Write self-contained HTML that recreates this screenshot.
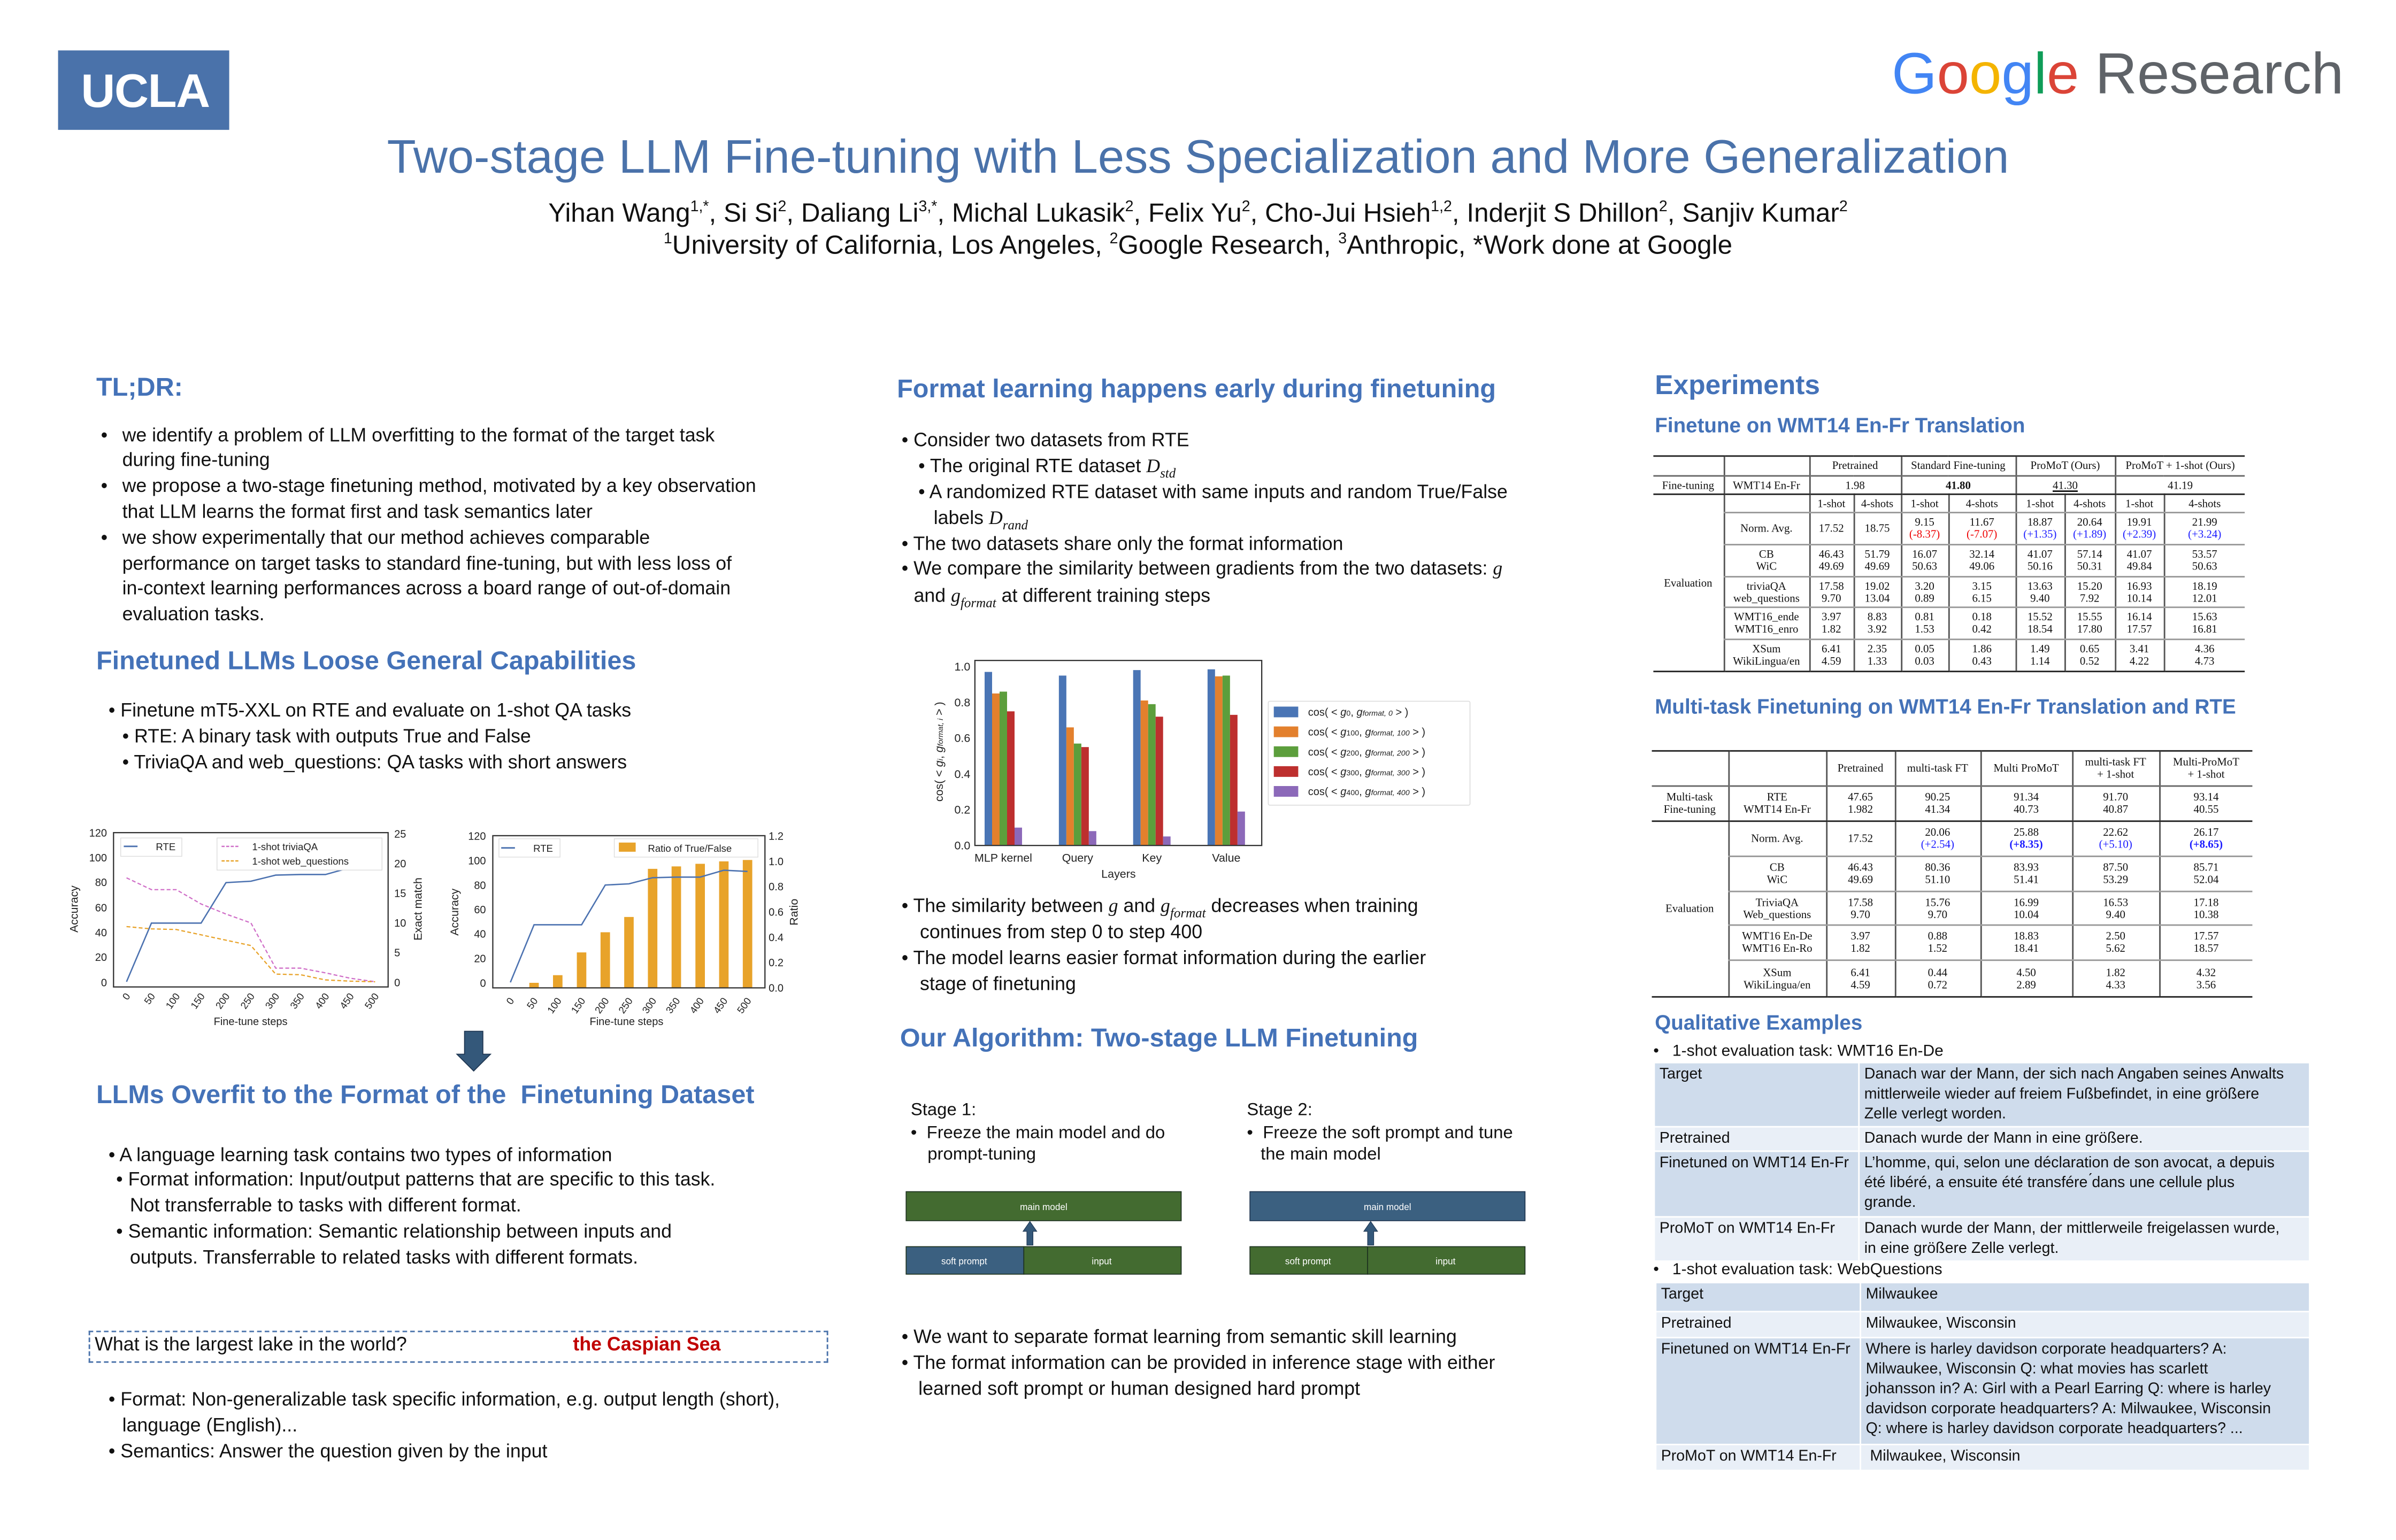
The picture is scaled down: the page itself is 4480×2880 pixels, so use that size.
<!DOCTYPE html>
<html><head><meta charset="utf-8">
<style>
html,body{margin:0;padding:0;background:#fff;}
body{width:4480px;height:2880px;overflow:hidden;position:relative;}
#p{position:absolute;left:0;top:0;width:1568px;height:1008px;transform:scale(2.857143);transform-origin:0 0;font-family:"Liberation Sans",Arial,sans-serif;color:#111;}
.x{position:absolute;white-space:nowrap;line-height:1;font-size:12.5px;}
.h{position:absolute;white-space:nowrap;line-height:1;font-size:17px;font-weight:bold;color:#4472b8;}
.s{position:absolute;white-space:nowrap;line-height:1;font-size:13.5px;font-weight:bold;color:#4472b8;}
.m{font-family:"Liberation Serif",serif;font-style:italic;}
sub.f{font-size:0.7em;font-family:"Liberation Serif",serif;font-style:italic;}
table.tb{position:absolute;border-collapse:collapse;table-layout:fixed;font-family:"Liberation Serif",serif;font-size:7.3px;line-height:8px;text-align:center;}
table.tb td{padding:0;border-left:0.6px solid #555;vertical-align:middle;overflow:hidden;white-space:nowrap;}
table.tb td.n{border-left:none;}
table.tb tr.top td{border-top:1.5px solid #222;}
table.tb tr.b1 td{border-bottom:1px solid #666;}
table.tb tr.b2 td{border-bottom:1.5px solid #222;}
table.tb tr.g td.c{border-bottom:1px solid #999;}
.r{color:#e00;} .bl{color:#1a1aff;}
table.q{position:absolute;border-collapse:collapse;table-layout:fixed;font-size:10px;line-height:13px;}
table.q td{padding:1px 3px;vertical-align:top;border:1px solid #fff;white-space:nowrap;}
tr.d td{background:#cfdcec;} tr.l td{background:#e9eff7;}
</style></head><body>
<div id="p">
<!-- header -->
<div style="position:absolute;left:38px;top:33px;width:112px;height:52px;background:#4a72aa;"></div>
<div class="x" style="left:53px;top:44px;font-size:31px;font-weight:bold;color:#fff;letter-spacing:-0.5px;">UCLA</div>
<div class="x" style="left:1238px;top:30px;font-size:38px;"><span style="color:#4285f4">G</span><span style="color:#db4437">o</span><span style="color:#f4b400">o</span><span style="color:#4285f4">g</span><span style="color:#0f9d58">l</span><span style="color:#db4437">e</span> <span style="color:#5f6368">Research</span></div>
<div class="x" style="left:0;width:1568px;text-align:center;top:87px;font-size:31px;color:#4a72aa;">Two-stage LLM Fine-tuning with Less Specialization and More Generalization</div>
<div class="x" style="left:0;width:1568px;text-align:center;top:131px;font-size:17.3px;">Yihan Wang<sup style="font-size:10px">1,*</sup>, Si Si<sup style="font-size:10px">2</sup>, Daliang Li<sup style="font-size:10px">3,*</sup>, Michal Lukasik<sup style="font-size:10px">2</sup>, Felix Yu<sup style="font-size:10px">2</sup>, Cho-Jui Hsieh<sup style="font-size:10px">1,2</sup>, Inderjit S Dhillon<sup style="font-size:10px">2</sup>, Sanjiv Kumar<sup style="font-size:10px">2</sup></div>
<div class="x" style="left:0;width:1568px;text-align:center;top:152px;font-size:17.3px;"><sup style="font-size:10px">1</sup>University of California, Los Angeles, <sup style="font-size:10px">2</sup>Google Research, <sup style="font-size:10px">3</sup>Anthropic, *Work done at Google</div>

<!-- left column -->
<div class="h" style="left:63px;top:245px;">TL;DR:</div>
<div class="x" style="left:66px;top:279px;">•</div><div class="x" style="left:80px;top:279px;">we identify a problem of LLM overfitting to the format of the target task</div>
<div class="x" style="left:80px;top:295px;">during fine-tuning</div>
<div class="x" style="left:66px;top:312px;">•</div><div class="x" style="left:80px;top:312px;">we propose a two-stage finetuning method, motivated by a key observation</div>
<div class="x" style="left:80px;top:329px;">that LLM learns the format first and task semantics later</div>
<div class="x" style="left:66px;top:346px;">•</div><div class="x" style="left:80px;top:346px;">we show experimentally that our method achieves comparable</div>
<div class="x" style="left:80px;top:363px;">performance on target tasks to standard fine-tuning, but with less loss of</div>
<div class="x" style="left:80px;top:379px;">in-context learning performances across a board range of out-of-domain</div>
<div class="x" style="left:80px;top:396px;">evaluation tasks.</div>

<div class="h" style="left:63px;top:424px;">Finetuned LLMs Loose General Capabilities</div>
<div class="x" style="left:71px;top:459px;">• Finetune mT5-XXL on RTE and evaluate on 1-shot QA tasks</div>
<div class="x" style="left:80px;top:476px;">• RTE: A binary task with outputs True and False</div>
<div class="x" style="left:80px;top:493px;">• TriviaQA and web_questions: QA tasks with short answers</div>

<div class="h" style="left:63px;top:708px;">LLMs Overfit to the Format of the &nbsp;Finetuning Dataset</div>
<div class="x" style="left:71px;top:750px;">• A language learning task contains two types of information</div>
<div class="x" style="left:76px;top:766px;">• Format information: Input/output patterns that are specific to this task.</div>
<div class="x" style="left:85px;top:783px;">Not transferrable to tasks with different format.</div>
<div class="x" style="left:76px;top:800px;">• Semantic information: Semantic relationship between inputs and</div>
<div class="x" style="left:85px;top:817px;">outputs. Transferrable to related tasks with different formats.</div>
<div style="position:absolute;left:58px;top:871px;width:482px;height:19px;border:1px dashed #4a72aa;"></div>
<div class="x" style="left:62px;top:874px;">What is the largest lake in the world?</div>
<div class="x" style="left:375px;top:874px;color:#c00000;font-weight:bold;">the Caspian Sea</div>
<div class="x" style="left:71px;top:910px;">• Format: Non-generalizable task specific information, e.g. output length (short),</div>
<div class="x" style="left:80px;top:927px;">language (English)...</div>
<div class="x" style="left:71px;top:944px;">• Semantics: Answer the question given by the input</div>

<!-- middle column -->
<div class="h" style="left:587px;top:246px;">Format learning happens early during finetuning</div>
<div class="x" style="left:590px;top:282px;">• Consider two datasets from RTE</div>
<div class="x" style="left:601px;top:299px;">• The original RTE dataset <span class="m">D<sub class="f">std</sub></span></div>
<div class="x" style="left:601px;top:316px;">• A randomized RTE dataset with same inputs and random True/False</div>
<div class="x" style="left:611px;top:333px;">labels <span class="m">D<sub class="f">rand</sub></span></div>
<div class="x" style="left:590px;top:350px;">• The two datasets share only the format information</div>
<div class="x" style="left:590px;top:366px;">• We compare the similarity between gradients from the two datasets: <span class="m">g</span></div>
<div class="x" style="left:598px;top:384px;">and <span class="m">g<sub class="f">format</sub></span> at different training steps</div>

<div class="x" style="left:590px;top:587px;">• The similarity between <span class="m">g</span> and <span class="m">g<sub class="f">format</sub></span> decreases when training</div>
<div class="x" style="left:602px;top:604px;">continues from step 0 to step 400</div>
<div class="x" style="left:590px;top:621px;">• The model learns easier format information during the earlier</div>
<div class="x" style="left:602px;top:638px;">stage of finetuning</div>

<div class="h" style="left:589px;top:671px;">Our Algorithm: Two-stage LLM Finetuning</div>
<div class="x" style="left:596px;top:722px;font-size:11.5px;">Stage 1:</div>
<div class="x" style="left:596px;top:737px;font-size:11.5px;">•&nbsp; Freeze the main model and do</div>
<div class="x" style="left:607px;top:751px;font-size:11.5px;">prompt-tuning</div>
<div class="x" style="left:816px;top:722px;font-size:11.5px;">Stage 2:</div>
<div class="x" style="left:816px;top:737px;font-size:11.5px;">•&nbsp; Freeze the soft prompt and tune</div>
<div class="x" style="left:825px;top:751px;font-size:11.5px;">the main model</div>

<div class="x" style="left:590px;top:869px;">• We want to separate format learning from semantic skill learning</div>
<div class="x" style="left:590px;top:886px;">• The format information can be provided in inference stage with either</div>
<div class="x" style="left:601px;top:903px;">learned soft prompt or human designed hard prompt</div>

<!-- right column -->
<div class="h" style="left:1083px;top:243px;font-size:18px;">Experiments</div>
<div class="s" style="left:1083px;top:272px;">Finetune on WMT14 En-Fr Translation</div>

<table class="tb" style="left:1082px;top:298px;width:387px;">
<colgroup><col style="width:46px"><col style="width:56px"><col style="width:29px"><col style="width:31px"><col style="width:31px"><col style="width:44px"><col style="width:32px"><col style="width:33px"><col style="width:32px"><col style="width:53px"></colgroup>
<tr class="top b1" style="height:13px"><td class="n"></td><td></td><td colspan="2">Pretrained</td><td colspan="2">Standard Fine-tuning</td><td colspan="2">ProMoT (Ours)</td><td colspan="2">ProMoT + 1-shot (Ours)</td></tr>
<tr class="b2" style="height:12px"><td class="n">Fine-tuning</td><td>WMT14 En-Fr</td><td colspan="2">1.98</td><td colspan="2"><b>41.80</b></td><td colspan="2"><u>41.30</u></td><td colspan="2">41.19</td></tr>
<tr class="g" style="height:12px"><td class="n" rowspan="6" style="border-bottom:1.5px solid #222;">Evaluation</td><td class="c"></td><td class="c">1-shot</td><td class="c">4-shots</td><td class="c">1-shot</td><td class="c">4-shots</td><td class="c">1-shot</td><td class="c">4-shots</td><td class="c">1-shot</td><td class="c">4-shots</td></tr>
<tr class="g" style="height:21px"><td class="c">Norm. Avg.</td><td class="c">17.52</td><td class="c">18.75</td><td class="c">9.15<br><span class="r">(-8.37)</span></td><td class="c">11.67<br><span class="r">(-7.07)</span></td><td class="c">18.87<br><span class="bl">(+1.35)</span></td><td class="c">20.64<br><span class="bl">(+1.89)</span></td><td class="c">19.91<br><span class="bl">(+2.39)</span></td><td class="c">21.99<br><span class="bl">(+3.24)</span></td></tr>
<tr class="g" style="height:21px"><td class="c">CB<br>WiC</td><td class="c">46.43<br>49.69</td><td class="c">51.79<br>49.69</td><td class="c">16.07<br>50.63</td><td class="c">32.14<br>49.06</td><td class="c">41.07<br>50.16</td><td class="c">57.14<br>50.31</td><td class="c">41.07<br>49.84</td><td class="c">53.57<br>50.63</td></tr>
<tr class="g" style="height:20px"><td class="c">triviaQA<br>web_questions</td><td class="c">17.58<br>9.70</td><td class="c">19.02<br>13.04</td><td class="c">3.20<br>0.89</td><td class="c">3.15<br>6.15</td><td class="c">13.63<br>9.40</td><td class="c">15.20<br>7.92</td><td class="c">16.93<br>10.14</td><td class="c">18.19<br>12.01</td></tr>
<tr class="g" style="height:21px"><td class="c">WMT16_ende<br>WMT16_enro</td><td class="c">3.97<br>1.82</td><td class="c">8.83<br>3.92</td><td class="c">0.81<br>1.53</td><td class="c">0.18<br>0.42</td><td class="c">15.52<br>18.54</td><td class="c">15.55<br>17.80</td><td class="c">16.14<br>17.57</td><td class="c">15.63<br>16.81</td></tr>
<tr class="b2" style="height:21px"><td>XSum<br>WikiLingua/en</td><td>6.41<br>4.59</td><td>2.35<br>1.33</td><td>0.05<br>0.03</td><td>1.86<br>0.43</td><td>1.49<br>1.14</td><td>0.65<br>0.52</td><td>3.41<br>4.22</td><td>4.36<br>4.73</td></tr>
</table>

<div class="s" style="left:1083px;top:456px;">Multi-task Finetuning on WMT14 En-Fr Translation and RTE</div>

<table class="tb" style="left:1081px;top:491px;width:393px;">
<colgroup><col style="width:50px"><col style="width:64px"><col style="width:45px"><col style="width:56px"><col style="width:60px"><col style="width:57px"><col style="width:61px"></colgroup>
<tr class="top b1" style="height:23px"><td class="n"></td><td></td><td>Pretrained</td><td>multi-task FT</td><td>Multi ProMoT</td><td>multi-task FT<br>+ 1-shot</td><td>Multi-ProMoT<br>+ 1-shot</td></tr>
<tr class="b2" style="height:23px"><td class="n">Multi-task<br>Fine-tuning</td><td>RTE<br>WMT14 En-Fr</td><td>47.65<br>1.982</td><td>90.25<br>41.34</td><td>91.34<br>40.73</td><td>91.70<br>40.87</td><td>93.14<br>40.55</td></tr>
<tr class="g" style="height:23px"><td class="n" rowspan="5" style="border-bottom:1.5px solid #222;">Evaluation</td><td class="c">Norm. Avg.</td><td class="c">17.52</td><td class="c">20.06<br><span class="bl">(+2.54)</span></td><td class="c">25.88<br><b class="bl">(+8.35)</b></td><td class="c">22.62<br><span class="bl">(+5.10)</span></td><td class="c">26.17<br><b class="bl">(+8.65)</b></td></tr>
<tr class="g" style="height:23px"><td class="c">CB<br>WiC</td><td class="c">46.43<br>49.69</td><td class="c">80.36<br>51.10</td><td class="c">83.93<br>51.41</td><td class="c">87.50<br>53.29</td><td class="c">85.71<br>52.04</td></tr>
<tr class="g" style="height:22px"><td class="c">TriviaQA<br>Web_questions</td><td class="c">17.58<br>9.70</td><td class="c">15.76<br>9.70</td><td class="c">16.99<br>10.04</td><td class="c">16.53<br>9.40</td><td class="c">17.18<br>10.38</td></tr>
<tr class="g" style="height:23px"><td class="c">WMT16 En-De<br>WMT16 En-Ro</td><td class="c">3.97<br>1.82</td><td class="c">0.88<br>1.52</td><td class="c">18.83<br>18.41</td><td class="c">2.50<br>5.62</td><td class="c">17.57<br>18.57</td></tr>
<tr class="b2" style="height:24px"><td>XSum<br>WikiLingua/en</td><td>6.41<br>4.59</td><td>0.44<br>0.72</td><td>4.50<br>2.89</td><td>1.82<br>4.33</td><td>4.32<br>3.56</td></tr>
</table>

<div class="s" style="left:1083px;top:663px;">Qualitative Examples</div>
<div class="x" style="left:1082px;top:683px;font-size:10.5px;">•&nbsp;&nbsp; 1-shot evaluation task: WMT16 En-De</div>
<table class="q" style="left:1082px;top:695px;width:429px;">
<colgroup><col style="width:134px"><col style="width:295px"></colgroup>
<tr class="d" style="height:42px"><td>Target</td><td>Danach war der Mann, der sich nach Angaben seines Anwalts<br>mittlerweile wieder auf freiem Fußbefindet, in eine größere<br>Zelle verlegt worden.</td></tr>
<tr class="l" style="height:15px"><td>Pretrained</td><td>Danach wurde der Mann in eine größere.</td></tr>
<tr class="d" style="height:43px"><td>Finetuned on WMT14 En-Fr</td><td>L’homme, qui, selon une déclaration de son avocat, a depuis<br>été libéré, a ensuite été transfére ́dans une cellule plus<br>grande.</td></tr>
<tr class="l" style="height:27px"><td>ProMoT on WMT14 En-Fr</td><td>Danach wurde der Mann, der mittlerweile freigelassen wurde,<br>in eine größere Zelle verlegt.</td></tr>
</table>
<div class="x" style="left:1082px;top:826px;font-size:10.5px;">•&nbsp;&nbsp; 1-shot evaluation task: WebQuestions</div>
<table class="q" style="left:1083px;top:839px;width:428px;">
<colgroup><col style="width:134px"><col style="width:294px"></colgroup>
<tr class="d" style="height:19px"><td>Target</td><td>Milwaukee</td></tr>
<tr class="l" style="height:17px"><td>Pretrained</td><td>Milwaukee, Wisconsin</td></tr>
<tr class="d" style="height:70px"><td>Finetuned on WMT14 En-Fr</td><td>Where is harley davidson corporate headquarters? A:<br>Milwaukee, Wisconsin Q: what movies has scarlett<br>johansson in? A: Girl with a Pearl Earring Q: where is harley<br>davidson corporate headquarters? A: Milwaukee, Wisconsin<br>Q: where is harley davidson corporate headquarters? ...</td></tr>
<tr class="l" style="height:17px"><td>ProMoT on WMT14 En-Fr</td><td>&nbsp;Milwaukee, Wisconsin</td></tr>
</table>

<!-- charts / diagrams -->
<svg style="position:absolute;left:0;top:0" width="1568" height="1008" viewBox="0 0 1568 1008" font-family="Liberation Sans, Arial, sans-serif">
<!-- left line chart -->
<g font-size="7" fill="#222">
<rect x="74.3" y="545" width="179.7" height="101" fill="none" stroke="#333" stroke-width="0.8"/>
<g text-anchor="end">
<text x="70" y="645.5">0</text><text x="70" y="629">20</text><text x="70" y="612.8">40</text><text x="70" y="596.5">60</text><text x="70" y="580">80</text><text x="70" y="563.8">100</text><text x="70" y="547.5">120</text>
</g>
<text x="258" y="645.5">0</text><text x="258" y="626">5</text><text x="258" y="606.6">10</text><text x="258" y="587.2">15</text><text x="258" y="567.7">20</text><text x="258" y="548.3">25</text>
<text transform="translate(51,595) rotate(-90)" text-anchor="middle" font-size="7.5">Accuracy</text>
<text transform="translate(276,595) rotate(-90)" text-anchor="middle" font-size="7.5">Exact match</text>
<g font-size="6.5" text-anchor="end">
<text transform="translate(85.5,652) rotate(-55)">0</text><text transform="translate(101.8,652) rotate(-55)">50</text><text transform="translate(118,652) rotate(-55)">100</text><text transform="translate(134.3,652) rotate(-55)">150</text><text transform="translate(150.6,652) rotate(-55)">200</text><text transform="translate(166.9,652) rotate(-55)">250</text><text transform="translate(183.1,652) rotate(-55)">300</text><text transform="translate(199.4,652) rotate(-55)">350</text><text transform="translate(215.7,652) rotate(-55)">400</text><text transform="translate(231.9,652) rotate(-55)">450</text><text transform="translate(248.2,652) rotate(-55)">500</text>
</g>
<text x="164" y="671" text-anchor="middle" font-size="7">Fine-tune steps</text>
<polyline fill="none" stroke="#4c72b0" stroke-width="0.9" points="82.8,642.6 99.1,604.2 115.3,604.2 131.6,604.2 147.9,577.7 164.2,576.8 180.4,572.8 196.7,572.4 213,572.4 229.2,567.9 245.5,568.7"/>
<polyline fill="none" stroke="#d070c8" stroke-width="0.8" stroke-dasharray="2.5,1.5" points="82.8,574.6 99.1,582.3 115.3,582.3 131.6,591.7 147.9,598.3 164.2,604.1 180.4,633.7 196.7,633.7 213,636.8 229.2,640.3 245.5,642.6"/>
<polyline fill="none" stroke="#e8a32a" stroke-width="0.8" stroke-dasharray="2.5,1.5" points="82.8,606.5 99.1,608 115.3,608.4 131.6,611.9 147.9,615.4 164.2,618.9 180.4,637.6 196.7,638 213,641.4 229.2,642.2 245.5,642.6"/>
<rect x="79" y="548.5" width="40" height="12" fill="#fff" stroke="#ddd" stroke-width="0.5"/>
<line x1="81" y1="554" x2="90" y2="554" stroke="#4c72b0" stroke-width="1"/><text x="102" y="556.5" font-size="6.5">RTE</text>
<rect x="142" y="548.5" width="108" height="21" fill="#fff" stroke="#ddd" stroke-width="0.5"/>
<line x1="145" y1="554" x2="157" y2="554" stroke="#d070c8" stroke-width="0.9" stroke-dasharray="2,1"/><text x="165" y="556.5" font-size="6.5">1-shot triviaQA</text>
<line x1="145" y1="563.5" x2="157" y2="563.5" stroke="#e8a32a" stroke-width="0.9" stroke-dasharray="2,1"/><text x="165" y="566" font-size="6.5">1-shot web_questions</text>
</g>
<!-- right chart -->
<g font-size="7" fill="#222">
<g fill="#e8a32a">
<rect x="346.4" y="643.3" width="6.2" height="3.3"/><rect x="361.9" y="638.3" width="6.2" height="8.3"/><rect x="377.5" y="623.4" width="6.2" height="23.2"/><rect x="393" y="610.2" width="6.2" height="36.4"/><rect x="408.5" y="600.2" width="6.2" height="46.4"/><rect x="424" y="568.7" width="6.2" height="77.9"/><rect x="439.5" y="567.1" width="6.2" height="79.5"/><rect x="455.1" y="565.4" width="6.2" height="81.2"/><rect x="470.6" y="563.8" width="6.2" height="82.8"/><rect x="486.1" y="562.9" width="6.2" height="83.7"/>
</g>
<rect x="322.5" y="547" width="178.1" height="99.6" fill="none" stroke="#333" stroke-width="0.8"/>
<polyline fill="none" stroke="#4c72b0" stroke-width="0.9" points="334,643 349.5,605.3 365,605.3 380.6,605.3 396.1,579.3 411.6,578.5 427.1,574.5 442.6,574.1 458.2,574.1 473.7,569.6 489.2,570.4"/>
<g text-anchor="end">
<text x="318" y="646">0</text><text x="318" y="629.9">20</text><text x="318" y="613.8">40</text><text x="318" y="597.8">60</text><text x="318" y="581.8">80</text><text x="318" y="565.7">100</text><text x="318" y="549.7">120</text>
</g>
<text x="503" y="649">0.0</text><text x="503" y="632.5">0.2</text><text x="503" y="616">0.4</text><text x="503" y="599.4">0.6</text><text x="503" y="582.8">0.8</text><text x="503" y="566.3">1.0</text><text x="503" y="549.7">1.2</text>
<text transform="translate(300,597) rotate(-90)" text-anchor="middle" font-size="7.5">Accuracy</text>
<text transform="translate(522,597) rotate(-90)" text-anchor="middle" font-size="7.5">Ratio</text>
<g font-size="6.5" text-anchor="end">
<text transform="translate(336.7,655) rotate(-55)">0</text><text transform="translate(352.2,655) rotate(-55)">50</text><text transform="translate(367.7,655) rotate(-55)">100</text><text transform="translate(383.3,655) rotate(-55)">150</text><text transform="translate(398.8,655) rotate(-55)">200</text><text transform="translate(414.3,655) rotate(-55)">250</text><text transform="translate(429.8,655) rotate(-55)">300</text><text transform="translate(445.3,655) rotate(-55)">350</text><text transform="translate(460.9,655) rotate(-55)">400</text><text transform="translate(476.4,655) rotate(-55)">450</text><text transform="translate(491.9,655) rotate(-55)">500</text>
</g>
<text x="410" y="671" text-anchor="middle" font-size="7">Fine-tune steps</text>
<rect x="326.5" y="549" width="40" height="12" fill="#fff" stroke="#ddd" stroke-width="0.5"/>
<line x1="328" y1="555" x2="337" y2="555" stroke="#4c72b0" stroke-width="1"/><text x="349" y="557.5" font-size="6.5">RTE</text>
<rect x="402" y="549" width="94" height="12" fill="#fff" stroke="#ddd" stroke-width="0.5"/>
<rect x="405" y="551.5" width="11" height="6" fill="#e8a32a"/><text x="424" y="557.5" font-size="6.5">Ratio of True/False</text>
</g>
<!-- down arrow -->
<polygon points="304,675 316,675 316,690 321,690 310,701 299,690 304,690" fill="#34587a" stroke="#1e3550" stroke-width="0.6"/>

<!-- bar chart -->
<g font-size="7.5" fill="#222">
<g fill="#4a75b5">
<rect x="644.35" y="439.8" width="4.9" height="113.6"/><rect x="692.95" y="442.2" width="4.9" height="111.2"/><rect x="741.55" y="438.6" width="4.9" height="114.8"/><rect x="790.25" y="438.1" width="4.9" height="115.3"/>
</g>
<g fill="#e3802d">
<rect x="649.25" y="453.9" width="4.9" height="99.5"/><rect x="697.85" y="476.1" width="4.9" height="77.3"/><rect x="746.45" y="458.5" width="4.9" height="94.9"/><rect x="795.15" y="442.7" width="4.9" height="110.7"/>
</g>
<g fill="#5c9e3c">
<rect x="654.15" y="452.7" width="4.9" height="100.7"/><rect x="702.75" y="486.7" width="4.9" height="66.7"/><rect x="751.35" y="460.9" width="4.9" height="92.5"/><rect x="800.05" y="442.2" width="4.9" height="111.2"/>
</g>
<g fill="#bd2f2e">
<rect x="659.05" y="465.6" width="4.9" height="87.8"/><rect x="707.65" y="489" width="4.9" height="64.4"/><rect x="756.25" y="469.1" width="4.9" height="84.3"/><rect x="804.95" y="467.9" width="4.9" height="85.5"/>
</g>
<g fill="#8c69b9">
<rect x="663.95" y="541.7" width="4.9" height="11.7"/><rect x="712.55" y="544" width="4.9" height="9.4"/><rect x="761.15" y="547.5" width="4.9" height="5.9"/><rect x="809.85" y="531.2" width="4.9" height="22.2"/>
</g>
<rect x="638" y="432.3" width="187.7" height="121.1" fill="none" stroke="#333" stroke-width="0.8"/>
<g text-anchor="end">
<text x="635" y="556">0.0</text><text x="635" y="532.6">0.2</text><text x="635" y="509.2">0.4</text><text x="635" y="485.7">0.6</text><text x="635" y="462.3">0.8</text><text x="635" y="438.9">1.0</text>
</g>
<g text-anchor="middle">
<text x="656.6" y="564">MLP kernel</text><text x="705.2" y="564">Query</text><text x="753.8" y="564">Key</text><text x="802.5" y="564">Value</text>
<text x="732" y="574.5">Layers</text>
</g>
<text transform="translate(617,492) rotate(-90)" text-anchor="middle" font-size="7.5">cos( &lt; <tspan font-style="italic">g</tspan><tspan font-size="5" font-style="italic">i</tspan>, <tspan font-style="italic">g</tspan><tspan font-size="5" font-style="italic">format, i</tspan> &gt; )</text>
<rect x="830" y="459" width="132" height="68" fill="#fff" stroke="#ddd" stroke-width="0.6" rx="1"/>
<g font-size="7">
<rect x="833.6" y="462.5" width="16" height="7" fill="#4a75b5"/><text x="856" y="468.5">cos( &lt; <tspan font-style="italic">g</tspan><tspan font-size="5">0</tspan>, <tspan font-style="italic">g</tspan><tspan font-size="5" font-style="italic">format, 0</tspan> &gt; )</text>
<rect x="833.6" y="475.5" width="16" height="7" fill="#e3802d"/><text x="856" y="481.5">cos( &lt; <tspan font-style="italic">g</tspan><tspan font-size="5">100</tspan>, <tspan font-style="italic">g</tspan><tspan font-size="5" font-style="italic">format, 100</tspan> &gt; )</text>
<rect x="833.6" y="488.5" width="16" height="7" fill="#5c9e3c"/><text x="856" y="494.5">cos( &lt; <tspan font-style="italic">g</tspan><tspan font-size="5">200</tspan>, <tspan font-style="italic">g</tspan><tspan font-size="5" font-style="italic">format, 200</tspan> &gt; )</text>
<rect x="833.6" y="501.5" width="16" height="7" fill="#bd2f2e"/><text x="856" y="507.5">cos( &lt; <tspan font-style="italic">g</tspan><tspan font-size="5">300</tspan>, <tspan font-style="italic">g</tspan><tspan font-size="5" font-style="italic">format, 300</tspan> &gt; )</text>
<rect x="833.6" y="514.5" width="16" height="7" fill="#8c69b9"/><text x="856" y="520.5">cos( &lt; <tspan font-style="italic">g</tspan><tspan font-size="5">400</tspan>, <tspan font-style="italic">g</tspan><tspan font-size="5" font-style="italic">format, 400</tspan> &gt; )</text>
</g>
</g>

<!-- algorithm diagrams -->
<g font-size="6" fill="#fff" text-anchor="middle" stroke-width="0.6">
<rect x="593" y="780" width="180" height="19" fill="#436b30" stroke="#1e3320"/>
<text x="683" y="792">main model</text>
<rect x="593" y="816" width="77" height="18" fill="#3b6080" stroke="#1e3320"/>
<rect x="670" y="816" width="103" height="18" fill="#436b30" stroke="#1e3320"/>
<text x="631" y="827.5">soft prompt</text><text x="721" y="827.5">input</text>
<polygon points="672,815 676,815 676,806 678.5,806 674,799.5 669.5,806 672,806" fill="#34587a" stroke="#1e3550" stroke-width="0.4"/>
<rect x="818" y="780" width="180" height="19" fill="#3b6080" stroke="#1e3550"/>
<text x="908" y="792">main model</text>
<rect x="818" y="816" width="77" height="18" fill="#436b30" stroke="#1e3320"/>
<rect x="895" y="816" width="103" height="18" fill="#436b30" stroke="#1e3320"/>
<text x="856" y="827.5">soft prompt</text><text x="946" y="827.5">input</text>
<polygon points="895,815 899,815 899,806 901.5,806 897,799.5 892.5,806 895,806" fill="#34587a" stroke="#1e3550" stroke-width="0.4"/>
</g>
</svg>
</div>
</body></html>
